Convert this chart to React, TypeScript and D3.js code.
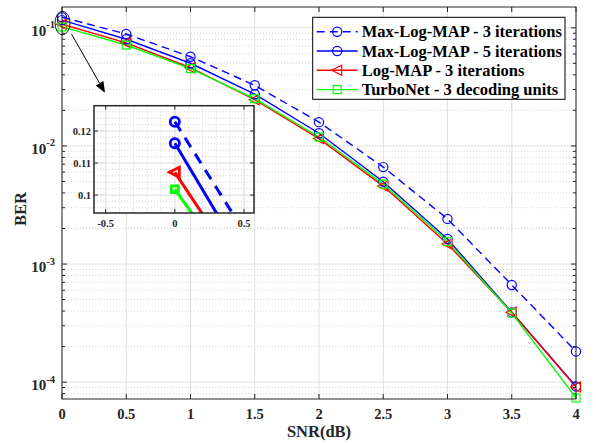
import React from 'react';
import * as d3 from 'd3';

const snr = [0, 0.5, 1, 1.5, 2, 2.5, 3, 3.5, 4];
const berMaxLog3 = [0.1229, 0.0886, 0.0569, 0.0326, 0.0159, 0.00662, 0.00241, 0.000665, 0.000182];
const berMaxLog5 = [0.1162, 0.08, 0.0501, 0.0274, 0.0128, 0.00498, 0.00163, 0.00039, 0.000092];
const berLogMap3 = [0.1071, 0.0745, 0.0459, 0.0246, 0.01153, 0.00457, 0.00148, 0.00039, 0.000091];
const berTurboNet = [0.1018, 0.0715, 0.0452, 0.0251, 0.0119, 0.00475, 0.00155, 0.000385, 0.0000735];

const seriesNames = [
  'Max-Log-MAP - 3 iterations',
  'Max-Log-MAP - 5 iterations',
  'Log-MAP - 3 iterations',
  'TurboNet - 3 decoding units',
];
const seriesValues = [berMaxLog3, berMaxLog5, berLogMap3, berTurboNet];
const seriesColors = ['#0000ff', '#0000ff', '#ff0000', '#00ff00'];
const seriesDash = ['8,5', null, null, null];
const seriesMarker = ['circle', 'circle', 'triangle', 'square'];

const xTicks = [0, 0.5, 1, 1.5, 2, 2.5, 3, 3.5, 4];
const yDecades = [-4, -3, -2, -1];
const insetXTicks = [-0.5, 0, 0.5];
const insetYTicks = [0.1, 0.11, 0.12];

const FONT = '"Liberation Serif", "Times New Roman", serif';
const AX = '#262626';

function Marker({ kind, x, y, color, s = 1, sw = 1.2 }) {
  if (kind === 'circle') {
    return <circle cx={x} cy={y} r={4.6 * s} fill="none" stroke={color} strokeWidth={sw} />;
  }
  if (kind === 'triangle') {
    const p = [[x - 5.5 * s, y], [x + 4.5 * s, y - 5 * s], [x + 4.5 * s, y + 5 * s]];
    return <polygon points={p.map(d => d.join(',')).join(' ')} fill="none" stroke={color} strokeWidth={sw} />;
  }
  return <rect x={x - 4 * s} y={y - 4 * s} width={8 * s} height={8 * s} fill="none" stroke={color} strokeWidth={sw} />;
}

export default function App() {
  const W = 596, H = 443;
  const x = d3.scaleLinear().domain([0, 4]).range([62, 576]);
  const y = d3.scaleLog().domain([7.2e-5, 0.15]).range([399, 7]);
  const [x0, x1] = x.range();
  const [yb, yt] = y.range();

  const minor: number[] = [];
  for (let k = -5; k <= -1; k++) {
    for (let m = 2; m <= 9; m++) {
      const v = m * Math.pow(10, k);
      if (v > y.domain()[0] && v < y.domain()[1]) minor.push(v);
    }
  }

  const line = d3.line<number>().x((_, i) => x(snr[i])).y(d => y(d));

  // inset
  const ix = d3.scaleLinear().domain([-0.5846, 0.5723]).range([94, 254]);
  const iy = d3.scaleLinear().domain([0.0944, 0.1279]).range([213, 105.7]);
  const [ix0, ix1] = ix.range();
  const [iyb, iyt] = iy.range();
  const iline = d3.line<number>().x((_, i) => ix(snr[i])).y(d => iy(d));
  const iMinorX = d3.range(-0.5, 0.51, 0.1);
  const iMinorY = d3.range(0.096, 0.128, 0.002);

  // ellipse around x = 0 points
  const eTop = y(berMaxLog3[0]);
  const eBot = y(berTurboNet[0]);
  const ecx = x(0) + 0.5;
  const ecy = (eTop + eBot) / 2 + 1;
  const arrowFrom = [ecx + 9, ecy + 11];
  const arrowTo = [ix0 + 11, iyt - 13];
  const ang = Math.atan2(arrowTo[1] - arrowFrom[1], arrowTo[0] - arrowFrom[0]);
  const ah = 11, aw = 4.5;
  const headBase = [arrowTo[0] - ah * Math.cos(ang), arrowTo[1] - ah * Math.sin(ang)];
  const head = [
    arrowTo,
    [headBase[0] + aw * Math.sin(ang), headBase[1] - aw * Math.cos(ang)],
    [headBase[0] - aw * Math.sin(ang), headBase[1] + aw * Math.cos(ang)],
  ];

  const legX = 312.7, legY = 17.3, legW = 252.3, legH = 82;

  return (
    <svg width={W} height={H} style={{ position: 'absolute', left: 0, top: 0, background: '#fff' }} fontFamily={FONT}>
      <defs>
        <clipPath id="mainClip"><rect x={x0} y={yt} width={x1 - x0} height={yb - yt} /></clipPath>
        <clipPath id="insetClip"><rect x={ix0} y={iyt} width={ix1 - ix0} height={iyb - iyt} /></clipPath>
      </defs>
      <rect x={x0} y={yt} width={x1 - x0} height={yb - yt} fill="#fff" />
      {/* grid */}
      {minor.map(v => (
        <line key={'mg' + v} x1={x0} x2={x1} y1={y(v)} y2={y(v)} stroke="#c8c8c8" strokeWidth={0.8} strokeDasharray="1,2" />
      ))}
      {yDecades.map(k => (
        <line key={'yg' + k} x1={x0} x2={x1} y1={y(Math.pow(10, k))} y2={y(Math.pow(10, k))} stroke="#e0e0e0" strokeWidth={1} />
      ))}
      {xTicks.map(t => (
        <line key={'xg' + t} x1={x(t)} x2={x(t)} y1={yt} y2={yb} stroke="#e0e0e0" strokeWidth={1} />
      ))}
      {/* ticks */}
      {xTicks.map(t => (
        <g key={'xt' + t}>
          <line x1={x(t)} x2={x(t)} y1={yb} y2={yb - 5} stroke={AX} />
          <line x1={x(t)} x2={x(t)} y1={yt} y2={yt + 5} stroke={AX} />
          <text x={x(t)} y={418.5} textAnchor="middle" fontSize={14.5} fontWeight="bold" fill={AX}>{t}</text>
        </g>
      ))}
      {yDecades.map(k => {
        const yy = y(Math.pow(10, k));
        return (
          <g key={'yt' + k}>
            <line x1={x0} x2={x0 + 5} y1={yy} y2={yy} stroke={AX} />
            <line x1={x1} x2={x1 - 5} y1={yy} y2={yy} stroke={AX} />
            <text x={55} y={yy + 8} textAnchor="end" fontSize={15} fontWeight="bold" fill={AX}>
              10<tspan dy={-7.5} fontSize={10.5}>{String(k)}</tspan>
            </text>
          </g>
        );
      })}
      {minor.map(v => (
        <g key={'mt' + v}>
          <line x1={x0} x2={x0 + 3} y1={y(v)} y2={y(v)} stroke={AX} />
          <line x1={x1} x2={x1 - 3} y1={y(v)} y2={y(v)} stroke={AX} />
        </g>
      ))}
      {/* series */}
      <g clipPath="url(#mainClip)">
        {seriesValues.map((vals, s) => (
          <path key={'l' + s} d={line(vals) || ''} fill="none" stroke={seriesColors[s]} strokeWidth={1.4}
            strokeDasharray={seriesDash[s] || undefined} />
        ))}
      </g>
      {seriesValues.map((vals, s) => (
        <g key={'m' + s}>
          {vals.map((v, i) => (
            <Marker key={i} kind={seriesMarker[s]} x={x(snr[i])} y={y(v)} color={seriesColors[s]} />
          ))}
        </g>
      ))}
      <rect x={x0} y={yt} width={x1 - x0} height={yb - yt} fill="none" stroke={AX} strokeWidth={1} />
      {/* axis labels */}
      <text x={(x0 + x1) / 2} y={437} textAnchor="middle" fontSize={16.5} fontWeight="bold" fill={AX}>SNR(dB)</text>
      <text transform={`translate(26,${(yt + yb) / 2 + 6}) rotate(-90)`} textAnchor="middle" fontSize={16.5} fontWeight="bold" fill={AX}>BER</text>
      {/* ellipse + arrow */}
      <ellipse cx={ecx} cy={ecy} rx={7.5} ry={(eBot - eTop) / 2 + 7} fill="none" stroke="#000" strokeWidth={0.9} />
      <line x1={arrowFrom[0]} y1={arrowFrom[1]} x2={headBase[0]} y2={headBase[1]} stroke="#000" strokeWidth={1} />
      <polygon points={head.map(d => d.join(',')).join(' ')} fill="#000" />
      {/* inset */}
      <rect x={ix0} y={iyt} width={ix1 - ix0} height={iyb - iyt} fill="#fff" />
      {iMinorY.map(v => (
        <line key={'imy' + v} x1={ix0} x2={ix1} y1={iy(v)} y2={iy(v)} stroke="#c8c8c8" strokeWidth={0.8} strokeDasharray="1,2" />
      ))}
      {iMinorX.map(v => (
        <line key={'imx' + v} x1={ix(v)} x2={ix(v)} y1={iyt} y2={iyb} stroke="#c8c8c8" strokeWidth={0.8} strokeDasharray="1,2" />
      ))}
      {insetYTicks.map(t => (
        <g key={'iyt' + t}>
          <line x1={ix0} x2={ix1} y1={iy(t)} y2={iy(t)} stroke="#e0e0e0" />
          <line x1={ix0} x2={ix0 + 4} y1={iy(t)} y2={iy(t)} stroke={AX} />
          <line x1={ix1} x2={ix1 - 4} y1={iy(t)} y2={iy(t)} stroke={AX} />
          <text x={ix0 - 3} y={iy(t) + 3.8} textAnchor="end" fontSize={10.5} fontWeight="bold" fill={AX}>{t}</text>
        </g>
      ))}
      {insetXTicks.map(t => (
        <g key={'ixt' + t}>
          <line x1={ix(t)} x2={ix(t)} y1={iyt} y2={iyb} stroke="#e0e0e0" />
          <line x1={ix(t)} x2={ix(t)} y1={iyb} y2={iyb - 4} stroke={AX} />
          <line x1={ix(t)} x2={ix(t)} y1={iyt} y2={iyt + 4} stroke={AX} />
          <text x={ix(t)} y={iyb + 14} textAnchor="middle" fontSize={10.5} fontWeight="bold" fill={AX}>{t}</text>
        </g>
      ))}
      <g clipPath="url(#insetClip)">
        {seriesValues.map((vals, s) => (
          <path key={'il' + s} d={iline(vals) || ''} fill="none" stroke={seriesColors[s]} strokeWidth={3}
            strokeDasharray={seriesDash[s] ? '11,8' : undefined} />
        ))}
        {seriesValues.map((vals, s) => (
          <Marker key={'im' + s} kind={seriesMarker[s]} x={ix(0)} y={iy(vals[0])} color={seriesColors[s]} s={s === 3 ? 0.85 : 1} sw={2.8} />
        ))}
      </g>
      <rect x={ix0} y={iyt} width={ix1 - ix0} height={iyb - iyt} fill="none" stroke={AX} strokeWidth={1.5} />
      {/* legend */}
      <rect x={legX} y={legY} width={legW} height={legH} fill="#fff" stroke="#000" strokeWidth={1} />
      {seriesNames.map((name, s) => {
        const ly = legY + 14.4 + s * 19.3;
        return (
          <g key={'lg' + s}>
            <line x1={legX + 4} x2={legX + 45} y1={ly} y2={ly} stroke={seriesColors[s]} strokeWidth={1.4}
              strokeDasharray={seriesDash[s] || undefined} />
            <Marker kind={seriesMarker[s]} x={legX + 24.5} y={ly} color={seriesColors[s]} />
            <text x={legX + 49} y={ly + 5.5} fontSize={16.5} fontWeight="bold" fill="#000">{name}</text>
          </g>
        );
      })}
    </svg>
  );
}
